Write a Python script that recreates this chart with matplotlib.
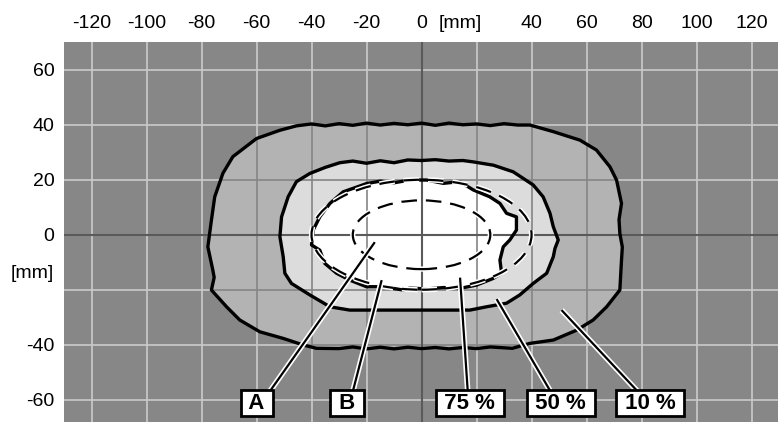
import numpy as np
import matplotlib
matplotlib.use("Agg")
import matplotlib.pyplot as plt
from matplotlib.patches import Polygon, Ellipse
import matplotlib.patheffects as pe

plt.rcParams['font.family'] = ['Liberation Sans', 'DejaVu Sans']

# tick labels (mm)
x_ticks = [-120, -100, -80, -60, -40, -20, 0, 14, 40, 60, 80, 100, 120]
x_labels = ['-120', '-100', '-80', '-60', '-40', '-20', '0', '[mm]', '40', '60', '80', '100', '120']
y_ticks = [60, 40, 20, 0, -13.5, -40, -60]
y_labels = ['60', '40', '20', '0', '[mm]', '-40', '-60']

# 10 % contour
outer_x = [-45.5, -40, -35, -30, -25, -20, -15, -10, -5, 0, 5, 10, 15, 20, 25, 30, 35, 39.4,
           47.9, 57.6, 63.6, 68.5, 70.9, 72.7, 71.8, 72.1, 73.0, 72.7, 72.1, 67.3, 62.4, 56.4,
           47.9, 39.4, 33, 25, 20, 15, 10, 5, 0, -5, -10, -15, -20, -25, -30, -38.2, -43,
           -50.3, -58.8, -66.1, -70.9, -76.4, -75.4, -75.9, -77.7, -76.4, -75.2, -72.2, -68.6,
           -60, -51.5]
outer_y = [39.6, 40.3, 39.6, 40.4, 39.8, 40.6, 39.9, 40.5, 40.0, 40.6, 39.8, 40.6, 40.0, 40.3,
           39.7, 40.4, 39.9, 39.9, 37.5, 34.4, 30.8, 24.7, 19.9, 11.4, 5.5, 0.5, -4.5, -9.2,
           -20.1, -26.2, -31, -34.7, -38.3, -39.5, -41.3, -40.8, -41.4, -41.0, -41.5, -41.0,
           -41.4, -40.9, -41.5, -40.9, -41.5, -40.8, -41.4, -41.3, -40.1, -37.7, -35.3, -31,
           -26.2, -20.1, -15.5, -12.8, -4.4, 5.3, 13.8, 22.4, 28.4, 35, 38]

# 50 % contour
mid_x = [-29.7, -25, -20, -15, -10, -5, 0, 5, 10, 15, 18.8, 26.1, 33.3, 40.6, 44.2, 46.7,
         47.9, 49.7, 48.5, 47.9, 45.5, 40.6, 35.7, 30.9, 23.6, 17.6, 10, 0, -10, -20, -26.1,
         -33.3, -40.6, -47.3, -49.7, -50.3, -51.5, -50.9, -48.5, -45.5, -40.6, -35]
mid_y = [26.2, 26.8, 26.0, 26.9, 26.2, 27.2, 27.0, 27.3, 26.8, 27.0, 26.5, 25.3, 22.9, 18.1,
         13.8, 7.8, 2.9, -1.9, -5.0, -8, -14, -17.7, -21.9, -24.9, -26.2, -27.4, -27.4, -27.4,
         -27.4, -27.4, -27.4, -26.2, -21.9, -17.7, -14, -8, -0.7, 6.5, 13.8, 19.3, 22.3, 24.5]

# 75 % contour
inner_x = [-20, -15, -10, -4.3, 1.8, 7.9, 13.9, 18.8, 24.8, 28.5, 30.9, 34.5, 34.5, 32.1,
           29.7, 28.5, 29.1, 26, 20, 14, 8, 2, -4.3, -6.7, -14, -20, -26.1, -30.9, -35.2, -37,
           -40, -39.4, -37, -33.3, -28.5]
inner_y = [18.6, 19.5, 18.9, 19.9, 19.9, 18.7, 19.3, 16.3, 13.8, 11.4, 7.8, 6.5, 1.7, -1.9,
           -4.4, -9.2, -14, -15.9, -18.3, -19.5, -19.2, -19.7, -19.4, -20.1, -18.9, -18.9,
           -16.5, -14, -10.4, -5.6, -3.7, 1.7, 6.5, 11.4, 15.6]

# dashed reference ellipses (full width, height in mm)
ell_sizes = [(80, 40), (50, 25)]

# callouts
call_text = ['A', 'B', '75 %', '50 %', '10 %']
call_box_x = [-59.9, -27, 17.6, 50.6, 83.2]
call_start_x = [-55.2, -25, 16.8, 46.9, 78.6]
call_end_x = [-17, -14.5, 14, 27.3, 50.9]
call_end_y = [-2.7, -16.5, -15.6, -23.4, -27.4]

fig = plt.figure(figsize=(7.78, 4.22), dpi=100)
ax = fig.add_axes([64 / 778, 0, 714 / 778, 380 / 422])
ax.set_xlim(-130, 129.6)
ax.set_ylim(-68.1, 70.1)
ax.set_facecolor('#878787')
for s in ax.spines.values():
    s.set_visible(False)

gx = np.arange(-120, 121, 20)
gy = np.arange(-60, 61, 20)
ax.vlines(gx, -70, 72, colors='#cbcbcb', lw=1.2, zorder=0.5)
ax.hlines(gy, -135, 135, colors='#cbcbcb', lw=1.2, zorder=0.5)

p_outer = Polygon(np.column_stack([outer_x, outer_y]), closed=True, fc='#b3b3b3',
                  ec='none', zorder=1)
p_mid = Polygon(np.column_stack([mid_x, mid_y]), closed=True, fc='#dcdcdc', ec='none', zorder=2)
p_inner = Polygon(np.column_stack([inner_x, inner_y]), closed=True, fc='white', ec='none', zorder=3)
for p in (p_outer, p_mid, p_inner):
    ax.add_patch(p)

# darker grid inside the regions
vl = ax.vlines(gx, -70, 72, colors='#858585', lw=1.2, zorder=4)
hl = ax.hlines(gy, -135, 135, colors='#858585', lw=1.2, zorder=4)
vl.set_clip_path(p_outer)
hl.set_clip_path(p_outer)

ax.axvline(0, color='#5a5a5a', lw=1.5, zorder=4.5)
ax.axhline(0, color='#5a5a5a', lw=1.5, zorder=4.5)

for xs, ys in ((outer_x, outer_y), (mid_x, mid_y), (inner_x, inner_y)):
    ax.add_patch(Polygon(np.column_stack([xs, ys]), closed=True, fill=False, ec='black',
                         lw=2.4, joinstyle='round', zorder=5))

for w, h in ell_sizes:
    e = Ellipse((0, 0), w, h, fill=False, ec='black', lw=1.6, ls=(0, (7, 4)), zorder=6,
                path_effects=[pe.withStroke(linewidth=3.8, foreground='white')])
    ax.add_patch(e)

for t, bx, sx, ex, ey in zip(call_text, call_box_x, call_start_x, call_end_x, call_end_y):
    ax.plot([sx, ex], [-57, ey], color='black', lw=1.6, zorder=7, solid_capstyle='butt',
            path_effects=[pe.withStroke(linewidth=4, foreground='white')])
    ax.text(bx, -61.2, ' ' + t + ' ', ha='center', va='center', fontsize=16, fontweight='bold',
            zorder=8,
            bbox=dict(boxstyle='square,pad=0.12', fc='white', ec='black', lw=2))

ax.xaxis.tick_top()
ax.set_xticks(x_ticks)
ax.set_xticklabels(x_labels)
ax.set_yticks(y_ticks)
ax.set_yticklabels(y_labels)
ax.tick_params(axis='both', length=0, labelsize=14)
ax.tick_params(axis='x', pad=7)
ax.tick_params(axis='y', pad=7)

fig.savefig('out.png', dpi=100)
